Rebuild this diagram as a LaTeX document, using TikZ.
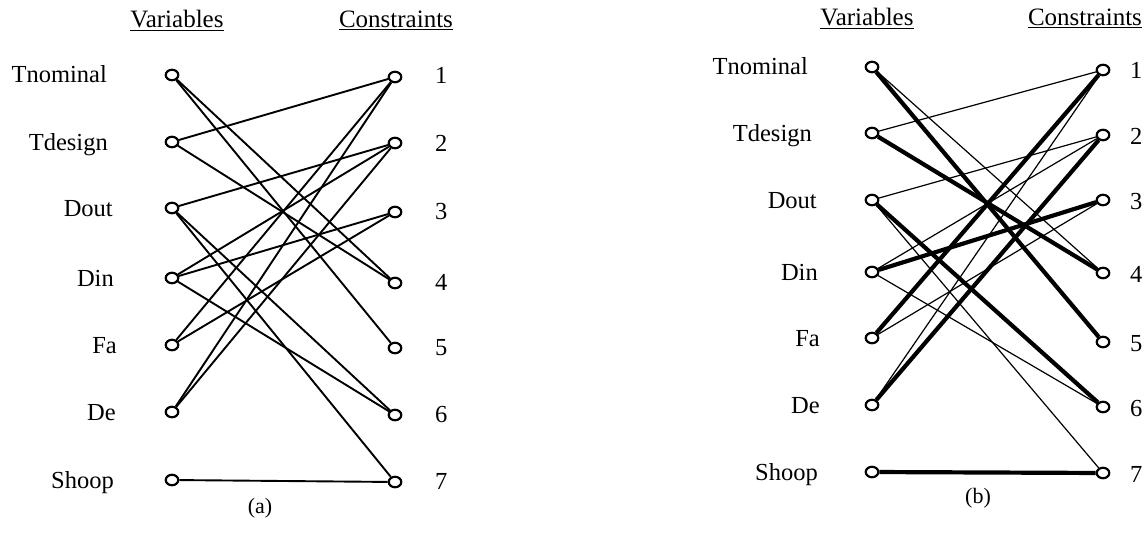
\documentclass[tikz,border=0pt]{standalone}
\usepackage{fontspec}
\setmainfont{Liberation Serif}
\usetikzlibrary{shapes.geometric}
\begin{document}
\begin{tikzpicture}[x=1pt,y=-1pt,
  port/.style={ellipse,draw,line width=2.2pt,fill=white,minimum width=12.5pt,minimum height=10.5pt,inner sep=0pt},
  lab/.style={anchor=base east,inner sep=0pt,font=\fontsize{24.5}{28}\selectfont},
  num/.style={anchor=base west,inner sep=0pt,font=\fontsize{24.5}{28}\selectfont},
  head/.style={anchor=base,inner sep=0pt,font=\fontsize{25}{28}\selectfont},
  captext/.style={anchor=center,inner sep=0pt,font=\fontsize{22}{26}\selectfont},
  ea/.style={line width=1.9pt},
  lite/.style={line width=1.2pt},
  heavy/.style={line width=4.2pt}]
\useasboundingbox (0,0) rectangle (1144,535);

% ---------------- (a) ----------------
\node[head] (ahv) at (177,28) {\underline{Variables}};
\node[head] (ahc) at (396,28) {\underline{Constraints}};

\node[port] (av1) at (172,75) {};
\node[port] (av2) at (172,142) {};
\node[port] (av3) at (172,208) {};
\node[port] (av4) at (172,278) {};
\node[port] (av5) at (172,345) {};
\node[port] (av6) at (172,412) {};
\node[port] (av7) at (172,480) {};

\node[port] (ac1) at (395,77) {};
\node[port] (ac2) at (395,143) {};
\node[port] (ac3) at (395,212) {};
\node[port] (ac4) at (395,283) {};
\node[port] (ac5) at (395,348) {};
\node[port] (ac6) at (395,415) {};
\node[port] (ac7) at (395,482) {};

\node[lab] (al1) at (107,83) {Tnominal};
\node[lab] (al2) at (108,150) {Tdesign};
\node[lab] (al3) at (113,216) {Dout};
\node[lab] (al4) at (114,286) {Din};
\node[lab] (al5) at (117,353) {Fa};
\node[lab] (al6) at (116,420) {De};
\node[lab] (al7) at (114,488) {Shoop};

\node[num] (an1) at (435,84) {1};
\node[num] (an2) at (435,151) {2};
\node[num] (an3) at (435,219) {3};
\node[num] (an4) at (435,290) {4};
\node[num] (an5) at (435,355) {5};
\node[num] (an6) at (435,422) {6};
\node[num] (an7) at (435,489) {7};

\node[captext] (acap) at (260,508) {(a)};

\draw[ea] (av1) -- (ac4);
\draw[ea] (av1) -- (ac5);
\draw[ea] (av2) -- (ac1);
\draw[ea] (av2) -- (ac4);
\draw[ea] (av3) -- (ac2);
\draw[ea] (av3) -- (ac6);
\draw[ea] (av3) -- (ac7);
\draw[ea] (av4) -- (ac2);
\draw[ea] (av4) -- (ac3);
\draw[ea] (av4) -- (ac6);
\draw[ea] (av5) -- (ac1);
\draw[ea] (av5) -- (ac3);
\draw[ea] (av6) -- (ac1);
\draw[ea] (av6) -- (ac2);
\draw[ea] (av7) -- (ac7);

% ---------------- (b) ----------------
\node[head] (bhv) at (867,26) {\underline{Variables}};
\node[head] (bhc) at (1085,26) {\underline{Constraints}};

\node[port] (bv1) at (872,67) {};
\node[port] (bv2) at (872,133) {};
\node[port] (bv3) at (872,200) {};
\node[port] (bv4) at (872,272) {};
\node[port] (bv5) at (872,338) {};
\node[port] (bv6) at (872,405) {};
\node[port] (bv7) at (872,472) {};

\node[port] (bc1) at (1103,70) {};
\node[port] (bc2) at (1103,135) {};
\node[port] (bc3) at (1103,200) {};
\node[port] (bc4) at (1103,273) {};
\node[port] (bc5) at (1103,342) {};
\node[port] (bc6) at (1103,407) {};
\node[port] (bc7) at (1103,473) {};

\node[lab] (bl1) at (808,75) {Tnominal};
\node[lab] (bl2) at (812,141) {Tdesign};
\node[lab] (bl3) at (817,208) {Dout};
\node[lab] (bl4) at (818,280) {Din};
\node[lab] (bl5) at (820,346) {Fa};
\node[lab] (bl6) at (820,413) {De};
\node[lab] (bl7) at (818,480) {Shoop};

\node[num] (bn1) at (1130,79) {1};
\node[num] (bn2) at (1130,144) {2};
\node[num] (bn3) at (1130,209) {3};
\node[num] (bn4) at (1130,282) {4};
\node[num] (bn5) at (1130,351) {5};
\node[num] (bn6) at (1130,416) {6};
\node[num] (bn7) at (1130,482) {7};

\node[captext] (bcap) at (978,498) {(b)};

\draw[lite] (bv1) -- (bc4);
\draw[heavy] (bv1) -- (bc5);
\draw[lite] (bv2) -- (bc1);
\draw[heavy] (bv2) -- (bc4);
\draw[lite] (bv3) -- (bc2);
\draw[heavy] (bv3) -- (bc6);
\draw[lite] (bv3) -- (bc7);
\draw[lite] (bv4) -- (bc2);
\draw[heavy] (bv4) -- (bc3);
\draw[lite] (bv4) -- (bc6);
\draw[heavy] (bv5) -- (bc1);
\draw[lite] (bv5) -- (bc3);
\draw[lite] (bv6) -- (bc1);
\draw[heavy] (bv6) -- (bc2);
\draw[heavy] (bv7) -- (bc7);
\end{tikzpicture}
\end{document}
